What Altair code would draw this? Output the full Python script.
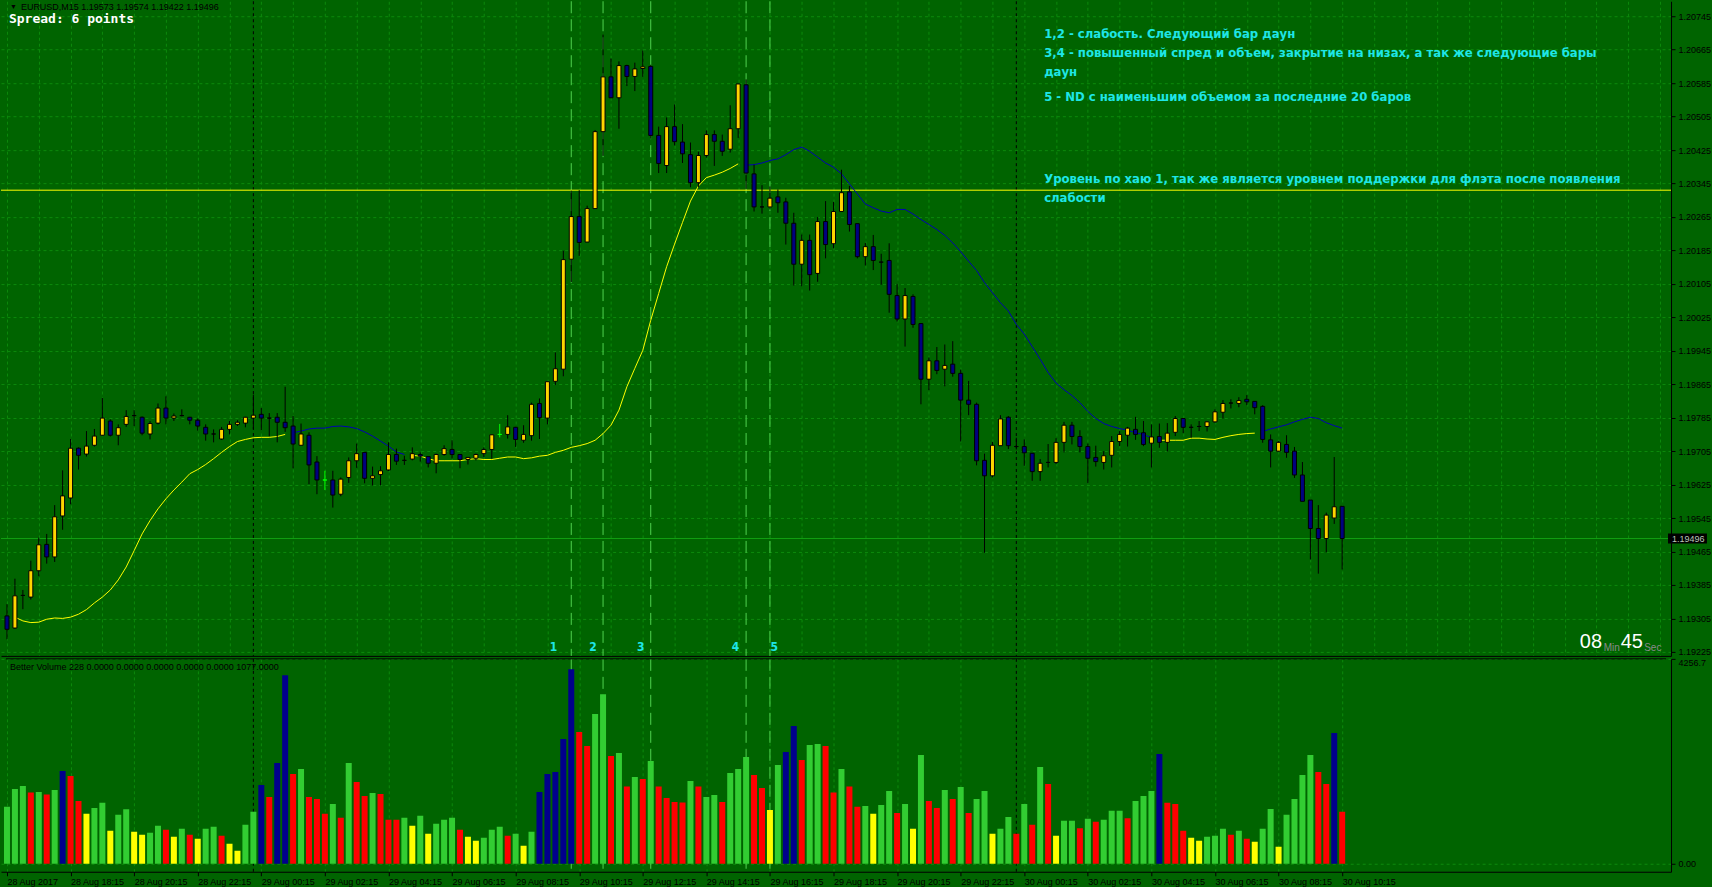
import altair as alt
import pandas as pd

# ---------------- data ----------------
opens = [1.19311,1.19282,1.19360,1.19356,1.19419,1.19482,1.19452,1.19550,1.19593,1.19712,
1.19698,1.19719,1.19743,1.19777,1.19743,1.19769,1.19790,1.19786,1.19746,1.19772,
1.19808,1.19784,1.19790,1.19786,1.19779,1.19762,1.19746,1.19734,1.19757,1.19769,
1.19772,1.19784,1.19793,1.19784,1.19786,1.19774,1.19765,1.19719,1.19743,1.19679,
1.19636,1.19636,1.19602,1.19642,1.19682,1.19702,1.19640,1.19649,1.19660,1.19697,
1.19683,1.19686,1.19697,1.19692,1.19676,1.19697,1.19709,1.19697,1.19685,1.19688,
1.19699,1.19709,1.19745,1.19745,1.19762,1.19731,1.19742,1.19819,1.19784,1.19872,
1.19901,1.20164,1.20266,1.20205,1.20285,1.20469,1.20600,1.20550,1.20627,1.20601,
1.20620,1.20625,1.20460,1.20388,1.20481,1.20444,1.20414,1.20347,1.20412,1.20462,
1.20446,1.20427,1.20476,1.20581,1.20368,1.20289,1.20289,1.20313,1.20301,1.20250,
1.20152,1.20209,1.20130,1.20254,1.20201,1.20278,1.20325,1.20249,1.20170,1.20194,
1.20157,1.20161,1.20077,1.20021,1.20075,1.20010,1.19877,1.19921,1.19901,1.19913,
1.19891,1.19827,1.19817,1.19683,1.19646,1.19718,1.19786,1.19716,1.19716,1.19700,
1.19656,1.19678,1.19678,1.19726,1.19767,1.19740,1.19716,1.19690,1.19678,1.19695,
1.19728,1.19743,1.19757,1.19749,1.19724,1.19740,1.19726,1.19750,1.19783,1.19762,
1.19764,1.19764,1.19775,1.19798,1.19820,1.19819,1.19829,1.19824,1.19812,1.19732,
1.19705,1.19721,1.19705,1.19648,1.19588,1.19520,1.19496,1.19545,1.19573]
highs = [1.19339,1.19400,1.19373,1.19443,1.19498,1.19507,1.19576,1.19659,1.19734,1.19714,
1.19753,1.19758,1.19832,1.19781,1.19769,1.19803,1.19803,1.19788,1.19777,1.19819,
1.19836,1.19795,1.19805,1.19787,1.19783,1.19769,1.19757,1.19763,1.19777,1.19779,
1.19787,1.19840,1.19808,1.19796,1.19796,1.19859,1.19789,1.19771,1.19750,1.19693,
1.19658,1.19658,1.19642,1.19690,1.19723,1.19702,1.19668,1.19669,1.19726,1.19711,
1.19694,1.19714,1.19702,1.19692,1.19699,1.19719,1.19731,1.19697,1.19691,1.19699,
1.19714,1.19745,1.19770,1.19791,1.19763,1.19767,1.19821,1.19831,1.19871,1.19941,
1.20184,1.20328,1.20329,1.20292,1.20473,1.20701,1.20644,1.20637,1.20629,1.20634,
1.20663,1.20629,1.20481,1.20503,1.20534,1.20487,1.20443,1.20421,1.20472,1.20472,
1.20462,1.20532,1.20583,1.20594,1.20390,1.20341,1.20338,1.20331,1.20311,1.20275,
1.20223,1.20223,1.20265,1.20303,1.20301,1.20378,1.20339,1.20249,1.20203,1.20222,
1.20177,1.20202,1.20105,1.20095,1.20080,1.20010,1.19929,1.19954,1.19960,1.19968,
1.19900,1.19873,1.19821,1.19699,1.19727,1.19791,1.19789,1.19737,1.19733,1.19700,
1.19686,1.19722,1.19736,1.19775,1.19775,1.19755,1.19723,1.19718,1.19705,1.19741,
1.19753,1.19763,1.19787,1.19777,1.19769,1.19771,1.19772,1.19789,1.19784,1.19769,
1.19777,1.19777,1.19805,1.19827,1.19829,1.19834,1.19839,1.19824,1.19815,1.19745,
1.19729,1.19743,1.19715,1.19679,1.19588,1.19576,1.19558,1.19691,1.19574]
lows = [1.19255,1.19280,1.19327,1.19350,1.19406,1.19436,1.19440,1.19517,1.19578,1.19661,
1.19692,1.19716,1.19741,1.19740,1.19719,1.19763,1.19765,1.19743,1.19733,1.19769,
1.19769,1.19777,1.19788,1.19769,1.19754,1.19730,1.19726,1.19732,1.19745,1.19765,
1.19762,1.19758,1.19755,1.19741,1.19726,1.19751,1.19664,1.19719,1.19626,1.19602,
1.19612,1.19570,1.19597,1.19629,1.19665,1.19628,1.19623,1.19623,1.19658,1.19672,
1.19672,1.19683,1.19680,1.19666,1.19652,1.19694,1.19687,1.19664,1.19673,1.19683,
1.19691,1.19687,1.19738,1.19735,1.19715,1.19725,1.19730,1.19734,1.19769,1.19863,
1.19884,1.20109,1.20172,1.20205,1.20285,1.20411,1.20550,1.20476,1.20578,1.20566,
1.20600,1.20452,1.20370,1.20370,1.20436,1.20394,1.20336,1.20336,1.20407,1.20387,
1.20411,1.20419,1.20454,1.20332,1.20278,1.20273,1.20283,1.20275,1.20199,1.20101,
1.20099,1.20089,1.20110,1.20166,1.20190,1.20278,1.20230,1.20166,1.20149,1.20138,
1.20103,1.20036,1.20015,1.19955,1.20000,1.19817,1.19851,1.19889,1.19860,1.19883,
1.19728,1.19791,1.19671,1.19462,1.19642,1.19718,1.19710,1.19709,1.19670,1.19634,
1.19634,1.19666,1.19674,1.19702,1.19721,1.19702,1.19628,1.19668,1.19661,1.19666,
1.19717,1.19716,1.19732,1.19717,1.19666,1.19713,1.19704,1.19741,1.19748,1.19737,
1.19753,1.19752,1.19773,1.19783,1.19807,1.19810,1.19815,1.19793,1.19725,1.19666,
1.19704,1.19689,1.19641,1.19585,1.19446,1.19412,1.19463,1.19531,1.19422]
closes = [1.19279,1.19359,1.19360,1.19419,1.19481,1.19452,1.19548,1.19598,1.19712,1.19695,
1.19717,1.19741,1.19784,1.19743,1.19761,1.19788,1.19790,1.19748,1.19771,1.19808,
1.19784,1.19789,1.19790,1.19779,1.19765,1.19746,1.19746,1.19757,1.19769,1.19774,
1.19786,1.19791,1.19784,1.19784,1.19774,1.19761,1.19722,1.19746,1.19672,1.19636,
1.19636,1.19600,1.19638,1.19682,1.19699,1.19640,1.19646,1.19658,1.19697,1.19681,
1.19683,1.19699,1.19693,1.19676,1.19697,1.19711,1.19697,1.19685,1.19690,1.19697,
1.19709,1.19744,1.19745,1.19763,1.19733,1.19745,1.19817,1.19785,1.19871,1.19902,
1.20163,1.20266,1.20204,1.20285,1.20469,1.20600,1.20550,1.20627,1.20601,1.20619,
1.20624,1.20460,1.20393,1.20481,1.20445,1.20416,1.20347,1.20412,1.20462,1.20446,
1.20422,1.20476,1.20583,1.20370,1.20289,1.20289,1.20310,1.20299,1.20250,1.20152,
1.20209,1.20127,1.20254,1.20199,1.20278,1.20323,1.20247,1.20170,1.20194,1.20161,
1.20157,1.20080,1.20021,1.20077,1.20008,1.19877,1.19921,1.19898,1.19910,1.19891,
1.19827,1.19817,1.19682,1.19646,1.19719,1.19782,1.19718,1.19716,1.19701,1.19656,
1.19676,1.19678,1.19726,1.19767,1.19740,1.19716,1.19688,1.19680,1.19694,1.19728,
1.19745,1.19760,1.19745,1.19721,1.19739,1.19726,1.19748,1.19783,1.19762,1.19762,
1.19764,1.19775,1.19799,1.19819,1.19820,1.19826,1.19823,1.19809,1.19733,1.19705,
1.19726,1.19702,1.19648,1.19585,1.19520,1.19496,1.19552,1.19572,1.19496]
lime_doji = [40, 62]

ma_values = [None,
1.19308,1.19299,1.19295,1.19296,1.19303,1.19306,1.19305,1.19308,1.19315,1.19326,
1.19342,1.19356,1.19373,1.19397,1.19428,1.19467,1.19507,1.19539,1.19567,1.19591,
1.19612,1.19631,1.19651,1.19661,1.19673,1.19687,1.19702,1.19716,1.19728,1.19733,
1.19737,1.19738,1.19738,1.19740,1.19745,1.19749,1.19753,1.19758,1.19760,1.19760,
1.19764,1.19765,1.19763,1.19759,1.19751,1.19741,1.19729,1.19717,1.19703,1.19697,
1.19695,1.19693,1.19687,1.19682,1.19682,1.19682,1.19682,1.19685,1.19687,1.19685,
1.19685,1.19688,1.19691,1.19691,1.19687,1.19689,1.19693,1.19695,1.19702,1.19707,
1.19714,1.19718,1.19723,1.19731,1.19747,1.19767,1.19803,1.19859,1.19903,1.19946,
1.20018,1.20082,1.20146,1.20200,1.20252,1.20303,1.20339,1.20359,1.20365,1.20372,
1.20381,1.20392,1.20389,1.20390,1.20394,1.20400,1.20404,1.20414,1.20426,1.20432,
1.20422,1.20408,1.20394,1.20384,1.20368,1.20344,1.20320,1.20296,1.20287,1.20279,
1.20275,1.20283,1.20283,1.20272,1.20259,1.20247,1.20235,1.20221,1.20203,1.20182,
1.20159,1.20137,1.20108,1.20084,1.20060,1.20040,1.20008,1.19985,1.19955,1.19925,
1.19893,1.19868,1.19852,1.19838,1.19821,1.19800,1.19783,1.19771,1.19764,1.19759,
1.19755,1.19749,1.19745,1.19737,1.19731,1.19731,1.19731,1.19731,1.19736,1.19736,
1.19734,1.19733,1.19738,1.19742,1.19745,1.19747,1.19748,1.19752,1.19758,1.19763,
1.19768,1.19775,1.19781,1.19786,1.19783,1.19773,1.19766,1.19760]
ma_segment_starts = [1, 36, 51, 93, 145, 158]
ma_segment_colors = ["#ffff00", "#0000b4", "#ffff00", "#0000b4", "#ffff00", "#0000b4"]

volumes = [1182,1555,1617,1479,1493,1437,1534,1928,1824,1306,
1037,1161,1265,684,1016,1133,663,601,643,788,
705,560,726,601,518,726,767,580,415,269,
808,1078,1638,1389,2094,3918,1866,1969,1389,1347,
1037,1244,954,2094,1700,1410,1472,1451,912,912,
954,788,995,622,829,912,954,705,560,477,
539,705,767,580,622,373,663,1493,1866,1907,
2591,4042,2736,2446,3110,3524,2239,2301,1603,1804,
1762,2135,1603,1368,1285,1271,1721,1603,1389,1430,
1285,1886,1969,2218,1845,1575,1119,2052,2322,2861,
2156,2467,2488,2446,1479,1969,1603,1182,1202,1037,
1223,1513,1057,1244,726,2260,1306,1161,1534,1347,
1596,1057,1347,1513,622,726,974,622,1244,808,
2011,1658,580,891,891,739,933,871,912,1099,
1099,947,1306,1410,1513,2280,1265,1244,684,539,
477,560,580,726,601,684,518,456,726,1140,
352,1016,1347,1845,2260,1907,1658,2716,1078]
vol_colors = list("gggrgrgbrr" "yggyggyygg" "rygryggryy" "ggbrbbrgrr"
                  "rgrgrrgrrr" "gygygggryy" "gggrgygbbb" "bbrrggrgrg"
                  "rgrrrrgrgg" "rgggrrygbb" "rggrrgrrgy" "ggrgygrrgr"
                  "grggyggrgr" "gryggrgrgg" "grgggbrrry" "ygggrgrygg"
                  "yggggrrbr")

time_labels = ["28 Aug 2017", "28 Aug 18:15", "28 Aug 20:15", "28 Aug 22:15",
               "29 Aug 00:15", "29 Aug 02:15", "29 Aug 04:15", "29 Aug 06:15",
               "29 Aug 08:15", "29 Aug 10:15", "29 Aug 12:15", "29 Aug 14:15",
               "29 Aug 16:15", "29 Aug 18:15", "29 Aug 20:15", "29 Aug 22:15",
               "30 Aug 00:15", "30 Aug 02:15", "30 Aug 04:15", "30 Aug 06:15",
               "30 Aug 08:15", "30 Aug 10:15"]
price_ticks = [1.19225, 1.19305, 1.19385, 1.19465, 1.19545, 1.19625, 1.19705, 1.19785,
               1.19865, 1.19945, 1.20025, 1.20105, 1.20185, 1.20265, 1.20345, 1.20425,
               1.20505, 1.20585, 1.20665, 1.20745]
day_separators = [31, 127]
signal_bars = [71, 75, 81, 93, 96]
signal_names = ["1", "2", "3", "4", "5"]
signal_label_at = [68.75, 73.75, 79.75, 91.65, 96.55]
signal_label_price = 1.19237
high_level = 1.20329
bid_price = 1.19496
vol_max_label = 4256.7

notes = ["1,2 - слабость. Следующий бар даун",
         "3,4 - повышенный спред и объем, закрытие на низах, а так же следующие бары",
         "даун",
         "5 - ND с наименьшим объемом за последние 20 баров",
         "Уровень по хаю 1, так же является уровнем поддержки для флэта после появления",
         "слабости"]
# anchor of each note: bar index and price level where the line of text sits
notes_at_bar = 130.5
notes_at_price = [1.20702, 1.20657, 1.20611, 1.20551, 1.20355, 1.20310]

# ---------------- styling ----------------
BG = "#006400"
GRID = "#0c8a0c"
BULL = "#ffd400"
BEAR = "#000080"
CYAN = "#1ee6e6"
FONT = "Liberation Sans"
NOTE_FONT = "DejaVu Sans Condensed, Liberation Sans Narrow, Roboto"
W = 1671
H_PRICE = 655
H_VOL = 213

n = len(opens)
bars = pd.DataFrame({"i": list(range(n)), "open": opens, "high": highs,
                     "low": lows, "close": closes})


def body_color(row):
    if row["i"] in lime_doji:
        return "#00ff00"
    if row["close"] > row["open"]:
        return BULL
    if row["close"] < row["open"]:
        return BEAR
    return "#000000"


bars["fill"] = bars.apply(body_color, axis=1)
bars["edge"] = ["#00ff00" if i in lime_doji else "#000000" for i in bars["i"]]

ma_rows = []
for i, v in enumerate(ma_values):
    if v is None:
        continue
    seg = max(k for k, s in enumerate(ma_segment_starts) if i >= s)
    ma_rows.append({"i": i, "ma": v, "seg": seg, "col": ma_segment_colors[seg]})
ma_df = pd.DataFrame(ma_rows)

vcol_map = {"g": "#32cd32", "r": "#ff0000", "y": "#ffff00", "b": "#00008c"}
vol_df = pd.DataFrame({"i": list(range(len(volumes))), "v": volumes,
                       "c": [vcol_map[c] for c in vol_colors]})

sep_df = pd.DataFrame({"i": day_separators})
sig_df = pd.DataFrame({"i": signal_bars})
sig_lab_df = pd.DataFrame({"i": signal_label_at, "name": signal_names,
                           "p": [signal_label_price] * len(signal_names)})

xs = alt.Scale(domain=[-0.125, 208.75], nice=False, zero=False)
ys = alt.Scale(domain=[1.192154, 1.207808], nice=False, zero=False)
vs = alt.Scale(domain=[-166, vol_max_label], nice=False, zero=False)
grid_x_vals = list(range(0, 209, 4))

x_price_axis = alt.Axis(values=grid_x_vals, labels=False, ticks=False, domain=True,
                        domainColor="black", grid=True, gridColor=GRID,
                        gridDash=[3, 3], title=None, minExtent=0, maxExtent=0)
y_price_axis = alt.Axis(orient="right", values=price_ticks, format=".5f",
                        labelFont=FONT, labelFontSize=9, labelColor="black",
                        tickColor="black", tickSize=4, domainColor="black",
                        grid=True, gridColor=GRID, gridDash=[3, 3],
                        labelPadding=3, title=None, labelOverlap=False)

# every layer of the price pane carries the same axis definition
X = lambda f="i": alt.X(f"{f}:Q", scale=xs, axis=x_price_axis, title=None)
Y = lambda f: alt.Y(f"{f}:Q", scale=ys, axis=y_price_axis, title=None)

base = alt.Chart(bars)

sep_layer = alt.Chart(sep_df).mark_rule(color="black", strokeDash=[3, 3], strokeWidth=1).encode(x=X())
sig_layer = alt.Chart(sig_df).mark_rule(color="#4fd24f", strokeDash=[12, 6], strokeWidth=1).encode(x=X())
sig_text = alt.Chart(sig_lab_df).mark_text(color=CYAN, font=NOTE_FONT, fontSize=12,
                                           fontWeight="bold", baseline="middle").encode(
    x=X(), y=Y("p"), text="name:N")

level_df = pd.DataFrame({"p": [high_level]})
level_layer = alt.Chart(level_df).mark_rule(color="#ffff00", strokeWidth=1).encode(y=Y("p"))
bid_df = pd.DataFrame({"p": [bid_price], "t": [f"{bid_price:.5f}"], "a": [209.0], "b": [213.9]})
bid_layer = alt.Chart(bid_df).mark_rule(color="#12a012", strokeWidth=1).encode(y=Y("p"))
bid_box = alt.Chart(bid_df).mark_rule(color="black", strokeWidth=10).encode(
    y=Y("p"), x=X("a"), x2="b:Q")
bid_txt = alt.Chart(bid_df).mark_text(color="#b8c8b8", font=FONT, fontSize=9, dx=4,
                                      align="left", baseline="middle").encode(
    y=Y("p"), x=X("a"), text="t:N")

ma_layer = alt.Chart(ma_df).mark_line(strokeWidth=1, clip=True).encode(
    x=X(), y=Y("ma"), detail="seg:N", color=alt.Color("col:N", scale=None))

wick_layer = base.mark_rule(strokeWidth=1, clip=True).encode(
    x=X(), y=Y("low"), y2="high:Q", color=alt.Color("edge:N", scale=None))
body_layer = base.mark_bar(size=4, strokeWidth=1, orient="vertical", clip=True).encode(
    x=X(), y=Y("open"), y2="close:Q",
    fill=alt.Fill("fill:N", scale=None), stroke=alt.Stroke("edge:N", scale=None))

top_df = pd.DataFrame({"t": ["▼", "EURUSD,M15  1.19573 1.19574 1.19422 1.19496"],
                       "i": [0.375, 1.75], "p": [1.20767, 1.20767], "s": [7, 9]})
header = alt.Chart(top_df).mark_text(font=FONT, color="black", align="left",
                                     baseline="middle").encode(
    x=X(), y=Y("p"), text="t:N", size=alt.Size("s:Q", scale=None))
spread_df = pd.DataFrame({"t": ["Spread: 6 points"], "i": [0.25], "p": [1.20738]})
spread = alt.Chart(spread_df).mark_text(
    font="DejaVu Sans Mono", fontSize=13, fontWeight="bold", color="white",
    align="left", baseline="middle").encode(x=X(), y=Y("p"), text="t:N")

notes_df = pd.DataFrame({"t": notes, "p": notes_at_price, "i": [notes_at_bar] * len(notes)})
notes_layer = alt.Chart(notes_df).mark_text(font=NOTE_FONT, fontSize=13, fontWeight="bold",
                                            color=CYAN, align="left", baseline="middle").encode(
    x=X(), y=Y("p"), text="t:N")

timer_df = pd.DataFrame({"t": ["08", "45"], "i": [199.3, 204.45], "p": [1.19249, 1.19249]})
timer_big = alt.Chart(timer_df).mark_text(font=FONT, fontSize=20, color="white",
                                          align="center", baseline="middle").encode(
    x=X(), y=Y("p"), text="t:N")
timer_sm_df = pd.DataFrame({"t": ["Min", "Sec"], "i": [200.9, 206.0], "p": [1.19235, 1.19235]})
timer_small = alt.Chart(timer_sm_df).mark_text(font=FONT, fontSize=10, color="#8a8a8a",
                                               align="left", baseline="middle").encode(
    x=X(), y=Y("p"), text="t:N")

price = alt.layer(sep_layer, sig_layer, level_layer, bid_layer, ma_layer,
                  wick_layer, body_layer, sig_text, header, spread, notes_layer,
                  timer_big, timer_small, bid_box, bid_txt).properties(width=W, height=H_PRICE)

# ---------------- volume pane ----------------
label_expr = "[" + ",".join(f"'{s}'" for s in time_labels) + "][round(datum.value/8)]"
x_vol_axis = alt.Axis(values=[8 * k for k in range(len(time_labels))], labelExpr=label_expr,
                      labelFont=FONT, labelFontSize=9, labelColor="black", labelAlign="left",
                      labelOffset=0, labelPadding=2, tickColor="black", tickSize=4,
                      domainColor="black", grid=True, gridColor=GRID, gridDash=[3, 3],
                      title=None, labelOverlap=False)
y_vol_axis = alt.Axis(orient="right", values=[0, vol_max_label],
                      labelExpr="datum.value == 0 ? '0.00' : format(datum.value, '.1f')",
                      labelFont=FONT, labelFontSize=9, labelColor="black",
                      tickColor="black", tickSize=4, domainColor="black",
                      grid=True, gridColor=GRID, gridDash=[3, 3], labelFlush=True,
                      labelPadding=3, title=None, labelOverlap=False)
VX = lambda f="i": alt.X(f"{f}:Q", scale=xs, axis=x_vol_axis, title=None)
VY = lambda f="v": alt.Y(f"{f}:Q", scale=vs, axis=y_vol_axis, title=None)

vbars = alt.Chart(vol_df).mark_bar(size=6, clip=True).encode(
    x=VX(), y=VY(), y2=alt.datum(0), color=alt.Color("c:N", scale=None))
vsep = alt.Chart(sep_df).mark_rule(color="black", strokeDash=[3, 3]).encode(x=VX())
vsig = alt.Chart(sig_df).mark_rule(color="#4fd24f", strokeDash=[12, 6]).encode(x=VX())
top_line_df = pd.DataFrame({"a": [-0.125], "b": [208.75], "v": [vol_max_label]})
vtop = alt.Chart(top_line_df).mark_rule(color="black", strokeWidth=1).encode(
    x=VX("a"), x2="b:Q", y=VY("v"))
vtitle_df = pd.DataFrame({"t": ["Better Volume 228 0.0000 0.0000 0.0000 0.0000 0.0000 1077.0000"],
                          "i": [0.375], "v": [4090]})
vtitle = alt.Chart(vtitle_df).mark_text(
    font=FONT, fontSize=9, color="black", align="left", baseline="middle").encode(
    x=VX(), y=VY("v"), text="t:N")

vol = alt.layer(vsep, vsig, vbars, vtop, vtitle).properties(width=W, height=H_VOL)

chart = (alt.vconcat(price, vol, spacing=1, padding=0, background=BG)
         .configure_view(stroke=None)
         .configure_axis(labelOverlap=False))

chart.save("out.html", embed_options={"renderer": "svg", "actions": False})
